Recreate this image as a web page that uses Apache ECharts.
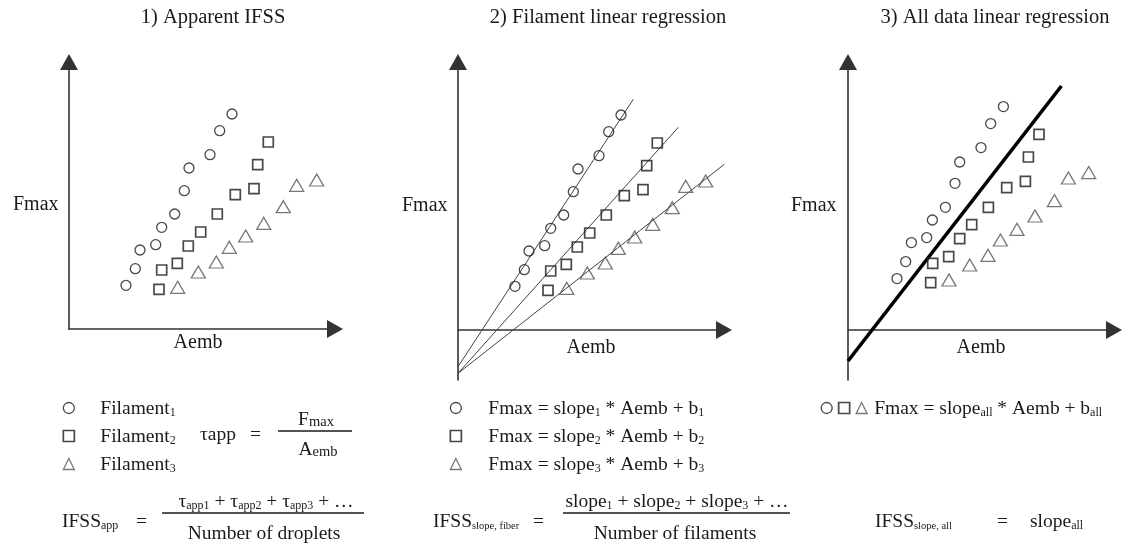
<!DOCTYPE html>
<html><head><meta charset="utf-8">
<script src="https://cdn.jsdelivr.net/npm/echarts@6/dist/echarts.min.js"></script>
<style>html,body{margin:0;padding:0;background:#fff}#c{width:1135px;height:545px}</style>
</head><body><div id="c"></div><script>
// ---------- data (schematic units) ----------
// Panels 1 and 2: measured points per filament
const fil1X = [57, 66.3, 71, 86.7, 92.7, 105.7, 115.3, 120, 141, 150.7, 163];
const fil1Y = [43.7, 60.3, 79, 84.3, 101.7, 115, 138.3, 161, 174.3, 198.3, 215];
const fil2X = [90, 92.7, 108.3, 119.3, 131.7, 148.3, 166.3, 185, 188.7, 199.3];
const fil2Y = [39.7, 59, 65.7, 83, 97, 115, 134.3, 140.3, 164.3, 187];
const fil3X = [108.7, 129.3, 147.3, 160.3, 176.7, 194.7, 214.3, 227.7, 247.7];
const fil3Y = [41.7, 57, 67, 81.7, 93, 105.7, 122.3, 143.7, 149];
// Panel 2: per-filament regression lines (end points)
const fit1X = [0, 175.3], fit1Y = [-36.7, 230.7];
const fit2X = [0, 220.3], fit2Y = [-43.3, 202.7];
const fit3X = [0, 266.3], fit3Y = [-43.3, 165.7];
// Panel 3: points as drawn
const all1X = [49, 57.7, 63.4, 78.7, 84.4, 97.4, 107, 111.7, 133, 142.7, 155.4];
const all1Y = [51.4, 68.4, 87.4, 92.4, 110, 122.7, 146.7, 168, 182.4, 206.4, 223.4];
const all2X = [82.7, 84.7, 100.7, 111.7, 123.7, 140.4, 158.7, 177.4, 180.4, 191];
const all2Y = [47.4, 66.7, 73.4, 91.4, 105.4, 122.7, 142.4, 148.7, 173, 195.7];
const all3X = [101, 121.7, 140, 152.4, 169, 187, 206.4, 220.4, 240.7];
const all3Y = [50, 65, 74.7, 90, 100.7, 114, 129.4, 152, 157.4];
// Panel 3: all-data regression line
const fitAllX = [0, 213.4], fitAllY = [-31, 244];

const titles = ['1) Apparent IFSS', '2) Filament linear regression', '3) All data linear regression'];

// ---------- styling ----------
const SERIF = "'Liberation Serif', 'Times New Roman', serif";
const INK = '#1a1a1a';
const rich = {
  T: {fontFamily: SERIF, fontSize: 20.5, lineHeight: 24, color: INK},
  n: {fontFamily: SERIF, fontSize: 19.5, lineHeight: 22, color: INK, verticalAlign: 'bottom'},
  lo: {fontFamily: SERIF, fontSize: 19.5, lineHeight: 17, color: INK, verticalAlign: 'bottom'},
  s: {fontFamily: SERIF, fontSize: 12, lineHeight: 14, color: INK, verticalAlign: 'bottom'},
  ss: {fontFamily: SERIF, fontSize: 10.5, lineHeight: 13, color: INK, verticalAlign: 'bottom'},
  sf: {fontFamily: SERIF, fontSize: 14.5, lineHeight: 16, color: INK, verticalAlign: 'bottom'},
  B: {fontFamily: SERIF, fontSize: 20, lineHeight: 24, color: INK, verticalAlign: 'bottom'},
  Blo: {fontFamily: SERIF, fontSize: 20, lineHeight: 17, color: INK, verticalAlign: 'bottom'},
  pad: {width: 21, fontSize: 19.5, lineHeight: 22},
  padB: {width: 22, fontSize: 19.5, lineHeight: 22},
  pad2: {width: 2, fontSize: 19.5, lineHeight: 22}
};
const hollow = 'rgba(255,255,255,0)';
const circleStyle = {color: hollow, borderColor: INK, borderWidth: 1.3};
const squareStyle = {color: hollow, borderColor: INK, borderWidth: 1.7};
const triStyle = {color: hollow, borderColor: '#555', borderWidth: 1.3};

function zip(xs, ys) { return xs.map((x, i) => [x, ys[i]]); }
function scat(name, xs, ys, idx, symbol, size, style) {
  return {type: 'scatter', name, xAxisIndex: idx, yAxisIndex: idx, data: zip(xs, ys),
    symbol, symbolSize: size, itemStyle: style, silent: true, z: 3};
}
function fitLine(name, xs, ys, idx, width, color) {
  return {type: 'line', name, xAxisIndex: idx, yAxisIndex: idx, data: zip(xs, ys),
    showSymbol: false, symbol: 'none', lineStyle: {color, width}, silent: true, z: 2};
}
const axisBase = {
  type: 'value', splitLine: {show: false}, axisTick: {show: false}, axisLabel: {show: false},
  axisLine: {show: true, onZero: true, symbol: ['none', 'triangle'], symbolSize: [18, 16],
    lineStyle: {color: '#333', width: 1.6}}
};
function xa(idx, max) { return Object.assign({gridIndex: idx, min: 0, max}, axisBase); }
function ya(idx, min, max) { return Object.assign({gridIndex: idx, min, max}, axisBase); }

function txt(x, y, text, align) {
  return {type: 'text', x, y, silent: true,
    style: {text, rich, textAlign: align || 'left', textVerticalAlign: 'middle',
      align: align || 'left', verticalAlign: 'middle', fill: INK, font: '19.5px ' + SERIF}};
}
function rule(x1, x2, y) {
  return {type: 'line', silent: true, shape: {x1, y1: y, x2, y2: y}, style: {stroke: INK, lineWidth: 1.4}};
}
const legendBase = {orient: 'vertical', itemGap: 7, itemWidth: 11, itemHeight: 11, padding: 0,
  selectedMode: false, textStyle: {rich}};

const chart = echarts.init(document.getElementById('c'), null, {renderer: 'canvas'});
chart.setOption({
  animation: false,
  backgroundColor: '#fff',
  grid: [
    {left: 69, top: 62, width: 266, height: 267},
    {left: 458, top: 62, width: 266, height: 318},
    {left: 848, top: 62, width: 266, height: 318}
  ],
  xAxis: [xa(0, 266), xa(1, 266), xa(2, 266)],
  yAxis: [ya(0, 0, 267), ya(1, -50, 268), ya(2, -50, 268)],
  legend: [
    Object.assign({}, legendBase, {left: 62.5, top: 398,
      data: [{name: 'Filament1', icon: 'circle', itemStyle: circleStyle},
             {name: 'Filament2', icon: 'rect', itemStyle: squareStyle},
             {name: 'Filament3', icon: 'triangle', itemStyle: triStyle}],
      formatter: n => '{pad|}{n|Filament}{s|' + n.slice(-1) + '}'}),
    Object.assign({}, legendBase, {left: 449.5, top: 398,
      data: [{name: 'fit1', icon: 'circle', itemStyle: circleStyle},
             {name: 'fit2', icon: 'rect', itemStyle: squareStyle},
             {name: 'fit3', icon: 'triangle', itemStyle: triStyle}],
      formatter: n => { const k = n.slice(-1); return '{padB|}{n|F}{lo|max}{n| = slope}{s|' + k + '}{n| * A}{lo|emb}{n| + b}{s|' + k + '}'; }}),
    Object.assign({}, legendBase, {left: 820.5, top: 398, orient: 'horizontal', itemGap: 5,
      data: [{name: 'all1', icon: 'circle', itemStyle: circleStyle},
             {name: 'all2', icon: 'rect', itemStyle: squareStyle},
             {name: 'all3', icon: 'triangle', itemStyle: triStyle}],
      formatter: n => n === 'all3' ? '{pad2|}{n|F}{lo|max}{n| = slope}{s|all}{n| * A}{lo|emb}{n| + b}{s|all}' : ''})
  ],
  series: [
    scat('Filament1', fil1X, fil1Y, 0, 'circle', 10, circleStyle),
    scat('Filament2', fil2X, fil2Y, 0, 'rect', 10, squareStyle),
    scat('Filament3', fil3X, fil3Y, 0, 'triangle', [14, 12], triStyle),
    fitLine('line1', fit1X, fit1Y, 1, 1, '#444'),
    fitLine('line2', fit2X, fit2Y, 1, 1, '#444'),
    fitLine('line3', fit3X, fit3Y, 1, 1, '#444'),
    scat('fit1', fil1X, fil1Y, 1, 'circle', 10, circleStyle),
    scat('fit2', fil2X, fil2Y, 1, 'rect', 10, squareStyle),
    scat('fit3', fil3X, fil3Y, 1, 'triangle', [14, 12], triStyle),
    fitLine('lineAll', fitAllX, fitAllY, 2, 3.6, '#000'),
    scat('all1', all1X, all1Y, 2, 'circle', 10, circleStyle),
    scat('all2', all2X, all2Y, 2, 'rect', 10, squareStyle),
    scat('all3', all3X, all3Y, 2, 'triangle', [14, 12], triStyle)
  ],
  graphic: [
    txt(213, 18, '{T|' + titles[0] + '}', 'center'),
    txt(608, 18, '{T|' + titles[1] + '}', 'center'),
    txt(995, 18, '{T|' + titles[2] + '}', 'center'),
    txt(13, 203, '{B|F}{Blo|max}'),
    txt(402, 204, '{B|F}{Blo|max}'),
    txt(791, 204, '{B|F}{Blo|max}'),
    txt(198, 341, '{B|A}{Blo|emb}', 'center'),
    txt(591, 346, '{B|A}{Blo|emb}', 'center'),
    txt(981, 346, '{B|A}{Blo|emb}', 'center'),
    // panel 1 formulas
    txt(200, 434, '{n|τ}{lo|app}'),
    txt(250, 434, '{n|=}'),
    txt(316, 419, '{n|F}{sf|max}', 'center'),
    rule(278, 352, 431),
    txt(318, 449, '{n|A}{sf|emb}', 'center'),
    txt(62, 521, '{n|IFSS}{s|app}'),
    txt(136, 521, '{n|=}'),
    txt(266, 501, '{n|τ}{s|app1}{n| + τ}{s|app2}{n| + τ}{s|app3}{n| + …}', 'center'),
    rule(162, 364, 513),
    txt(264, 533, '{n|Number of droplets}', 'center'),
    // panel 2 formulas
    txt(433, 521, '{n|IFSS}{ss|slope, fiber}'),
    txt(533, 521, '{n|=}'),
    txt(677, 501, '{n|slope}{s|1}{n| + slope}{s|2}{n| + slope}{s|3}{n| + …}', 'center'),
    rule(563, 790, 513),
    txt(675, 533, '{n|Number of filaments}', 'center'),
    // panel 3 formula
    txt(875, 521, '{n|IFSS}{ss|slope, all}'),
    txt(997, 521, '{n|=}'),
    txt(1030, 521, '{n|slope}{s|all}')
  ]
});
</script></body></html>
